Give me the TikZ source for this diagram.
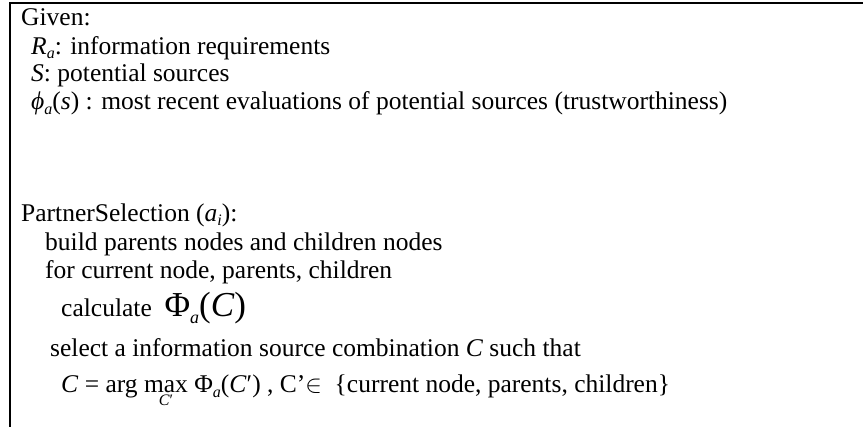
\documentclass[tikz,border=0pt]{standalone}
\usepackage{fontspec}
\setmainfont{Liberation Serif}
\newcommand{\lsub}[2][5pt]{\lower#1\hbox{\fontsize{16}{16}\selectfont\textit{#2}}}
\begin{document}
\begin{tikzpicture}[x=1pt,y=-1pt,
  txt/.style={anchor=base west, inner sep=0pt, font=\fontsize{25.5}{30}\selectfont},
  border/.style={line width=2.5pt}]
\useasboundingbox (0,0) rectangle (863,427);
\coordinate (bl) at (10,427);
\coordinate (tl) at (10,3);
\coordinate (tr) at (863,3);
\draw[border] (bl) -- (tl) -- (tr);
\node[txt] (given) at (21,26) {Given:};
\node[txt] (ra) at (31,55) {\textit{R}\lsub[4pt]{a}: information requirements};
\node[txt] (s) at (31,82) {\textit{S}: potential sources};
\node[txt] (phi) at (31,110) {\textit{ϕ}\lsub{a}(\textit{s}) : most recent evaluations of potential sources (trustworthiness)};
\node[txt] (ps) at (21,222) {PartnerSelection (\textit{a}\lsub[4pt]{i}):};
\node[txt] (build) at (45,251) {build parents nodes and children nodes};
\node[txt] (for) at (45,279) {for current node, parents, children};
\node[txt] (calc) at (61,317) {calculate\ \ {\fontsize{35}{35}\selectfont Φ\lower7pt\hbox{\fontsize{18}{18}\selectfont\textit{a}}(\textit{C})}};
\node[txt] (sel) at (50,357) {select a information source combination \textit{C} such that};
\node[txt] (eq) at (61,393) {\textit{C} = arg $\mathop{\hbox{max}}\limits_{\hbox{\fontsize{16}{16}\selectfont\textit{C}′}}$ Φ\lsub{a}(\textit{C}′) , C’$\in$\ \ \{current node, parents, children\}};
\end{tikzpicture}
\end{document}
